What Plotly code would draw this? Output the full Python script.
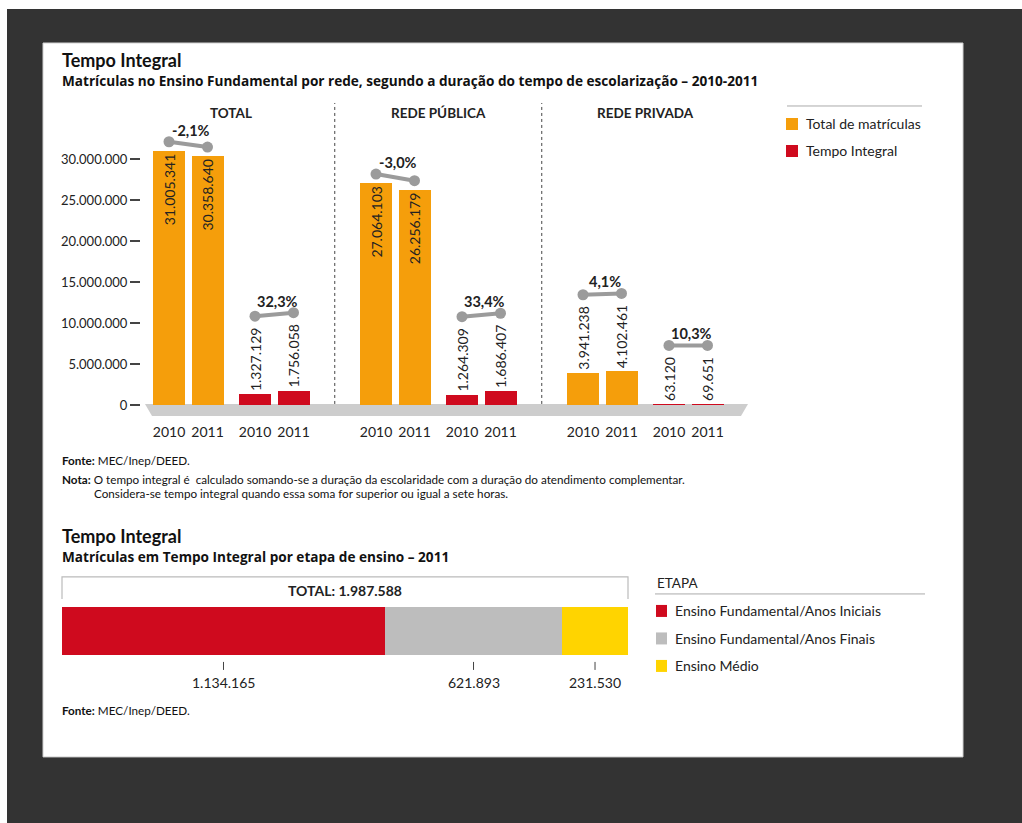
import plotly.graph_objects as go

# ---- data -------------------------------------------------------------
redes = ["TOTAL", "REDE PÚBLICA", "REDE PRIVADA"]
anos = ["2010", "2011"]
total_matriculas = [[31005341, 30358640], [27064103, 26256179], [3941238, 4102461]]
tempo_integral = [[1327129, 1756058], [1264309, 1686407], [63120, 69651]]
y_ticks = [0, 5000000, 10000000, 15000000, 20000000, 25000000, 30000000]

etapas = ["Ensino Fundamental/Anos Iniciais", "Ensino Fundamental/Anos Finais", "Ensino Médio"]
etapa_valores = [1134165, 621893, 231530]

legenda_series = ["Total de matrículas", "Tempo Integral"]

# ---- style ------------------------------------------------------------
W, H = 1022, 823
K = 831 / 823  # vertical layout scale
ORANGE = "#F59E0B"
RED = "#CF0A1E"
GREY_SEG = "#BDBDBD"
YELLOW = "#FFD400"
CONNECTOR = "#9B9B9B"
TEXT = "#222222"
FONT = "Lato"
FONT_SUB = "Open Sans"


def px(x):
    return x / W


def py(y):
    return 1 - y * K / H


def br(n):
    return f"{n:,}".replace(",", ".")


def pct(a, b):
    v = (b / a - 1) * 100
    return f"{v:.1f}".replace(".", ",") + "%"


# geometry of the upper chart (axis units follow screen pixels horizontally)
X_LEFT, X_RIGHT = 141, 760
Y_BOT, Y_TOP = 405, 97
Y_MAX = 37.56e6
PX_PER_UNIT = (Y_BOT - Y_TOP) / Y_MAX
FIRST_CENTER = 169
GROUP_STEP = 207
PAIR_STEP = 86
YEAR_STEP = 38.5
BAR_W = 32
INSIDE_MIN = 10e6
LABEL_SIZE = 14


def center(g, s, a):
    return FIRST_CENTER + g * GROUP_STEP + s * PAIR_STEP + a * YEAR_STEP


def label_len_px(n):
    s = br(n)
    digits = sum(c.isdigit() for c in s)
    dots = s.count(".")
    return LABEL_SIZE * (0.55 * digits + 0.25 * dots)


fig = go.Figure()
shapes = []
annotations = []

# background and white card
shapes.append(dict(type="rect", xref="paper", yref="paper", x0=px(7), x1=1, y0=py(840), y1=py(9),
                   fillcolor="#333333", line=dict(width=0), layer="below"))
shapes.append(dict(type="rect", xref="paper", yref="paper", x0=px(43), x1=px(963), y0=py(757), y1=py(43),
                   fillcolor="white", line=dict(color="#d0d0d0", width=1), layer="below"))

# floor under the bars
floor = (f"M {px(145)},{py(404)} L {px(748)},{py(404)} L {px(741)},{py(416)} "
         f"L {px(152)},{py(416)} Z")
shapes.append(dict(type="path", xref="paper", yref="paper", path=floor,
                   fillcolor="#CDCDCD", line=dict(width=0), layer="below"))

# bars of the upper chart
series = [total_matriculas, tempo_integral]
colors = [ORANGE, RED]
all_centers, all_years = [], []
conn_x, conn_y = [], []
for s, (vals, col) in enumerate(zip(series, colors)):
    xs, ys, txt, pos = [], [], [], []
    for g in range(len(redes)):
        pair_dots = []
        for a in range(len(anos)):
            v = vals[g][a]
            c = center(g, s, a)
            xs.append(c)
            ys.append(v)
            txt.append(br(v))
            inside = v > INSIDE_MIN
            pos.append("inside" if inside else "outside")
            all_centers.append(c)
            all_years.append(anos[a])
            off = 9 if inside else 3 + label_len_px(v) + 14
            pair_dots.append((c, v + off / PX_PER_UNIT))
        for (cx, cy) in pair_dots:
            conn_x.append(cx)
            conn_y.append(cy)
        conn_x.append(None)
        conn_y.append(None)
        annotations.append(dict(
            x=(pair_dots[0][0] + pair_dots[1][0]) / 2 + 3, y=max(pair_dots[0][1], pair_dots[1][1]),
            xref="x", yref="y", text=f"<b>{pct(vals[g][0], vals[g][1])}</b>",
            showarrow=False, yanchor="bottom", yshift=1,
            font=dict(family=FONT, size=14.5, color=TEXT)))
    fig.add_trace(go.Bar(
        x=xs, y=ys, width=BAR_W, marker=dict(color=col, line=dict(width=0)),
        text=txt, textposition=pos, textangle=-90, insidetextanchor="end",
        constraintext="none", cliponaxis=False,
        textfont=dict(family=FONT, size=LABEL_SIZE, color=TEXT),
        outsidetextfont=dict(family=FONT, size=LABEL_SIZE, color=TEXT),
        insidetextfont=dict(family=FONT, size=LABEL_SIZE, color=TEXT),
        hoverinfo="skip", showlegend=False, xaxis="x", yaxis="y"))

fig.add_trace(go.Scatter(
    x=conn_x, y=conn_y, mode="lines+markers", connectgaps=False,
    line=dict(color=CONNECTOR, width=4), marker=dict(color=CONNECTOR, size=11),
    hoverinfo="skip", showlegend=False, cliponaxis=False, xaxis="x", yaxis="y"))

# group headings and separators
for g, name in enumerate(redes):
    cx = sum(center(g, s, a) for s in range(2) for a in range(2)) / 4
    annotations.append(dict(x=cx, y=py(113), xref="x", yref="paper", text=f"<b>{name}</b>", showarrow=False,
                            font=dict(family=FONT, size=13.5, color=TEXT), yanchor="middle"))
for g in range(len(redes) - 1):
    sx = (center(g, 1, 1) + center(g + 1, 0, 0)) / 2
    shapes.append(dict(type="line", xref="x", yref="paper", x0=sx, x1=sx, y0=py(404), y1=py(103),
                       line=dict(color="#444444", width=1, dash="3px,3px")))

# titles and notes
text_items = [
    (61, 60, "<b>Tempo Integral</b>", FONT, 18),
    (61, 81, "<b>Matrículas no Ensino Fundamental por rede, segundo a duração do tempo de escolarização – 2010-2011</b>",
     FONT_SUB, 13.6),
    (61, 536, "<b>Tempo Integral</b>", FONT, 18),
    (61, 557, "<b>Matrículas em Tempo Integral por etapa de ensino – 2011</b>", FONT_SUB, 13.6),
    (61, 460, "<b>Fonte:</b> MEC/Inep/DEED.", FONT, 11.7),
    (61, 479, "<b>Nota:</b> O tempo integral é  calculado somando-se a duração da escolaridade com a duração do atendimento complementar.",
     FONT, 11.7),
    (93, 493, "Considera-se tempo integral quando essa soma for superior ou igual a sete horas.", FONT, 11.7),
    (61, 710, "<b>Fonte:</b> MEC/Inep/DEED.", FONT, 11.7),
]
for x, y, t, fam, size in text_items:
    annotations.append(dict(x=px(x), y=py(y), xref="paper", yref="paper", text=t, showarrow=False,
                            xanchor="left", yanchor="middle", borderpad=0,
                            font=dict(family=fam, size=size, color="#111")))

# upper legend
shapes.append(dict(type="line", xref="paper", yref="paper", x0=px(787), x1=px(922), y0=py(106), y1=py(106),
                   line=dict(color="#AAAAAA", width=1)))
for i, (lab, col) in enumerate(zip(legenda_series, colors)):
    yc = 124 + i * 27
    shapes.append(dict(type="rect", xref="paper", yref="paper", x0=px(786), x1=px(798),
                       y0=py(yc + 6), y1=py(yc - 6), fillcolor=col, line=dict(width=0)))
    annotations.append(dict(x=px(804), y=py(yc), xref="paper", yref="paper", text=lab, showarrow=False,
                            xanchor="left", yanchor="middle", font=dict(family=FONT, size=14, color=TEXT)))

# lower chart: single stacked bar
seg_colors = [RED, GREY_SEG, YELLOW]
total_etapas = sum(etapa_valores)
base = 0
for lab, v, col in zip(etapas, etapa_valores, seg_colors):
    fig.add_trace(go.Bar(
        x=[v], y=["2011"], base=[base], orientation="h", width=1,
        marker=dict(color=col, line=dict(width=0)), hoverinfo="skip", showlegend=False,
        xaxis="x2", yaxis="y2"))
    mid = base + v / 2
    shapes.append(dict(type="line", xref="x2", yref="paper", x0=mid, x1=mid, y0=py(670), y1=py(662),
                       line=dict(color="#444444", width=1)))
    annotations.append(dict(x=mid, y=py(683), xref="x2", yref="paper", text=br(v), showarrow=False,
                            yanchor="middle", font=dict(family=FONT, size=14, color=TEXT)))
    base += v

# frame carrying the total
box = f"M {px(62)},{py(599)} L {px(62)},{py(577)} L {px(628)},{py(577)} L {px(628)},{py(599)}"
shapes.append(dict(type="path", xref="paper", yref="paper", path=box, line=dict(color="#BBBBBB", width=1.2)))
annotations.append(dict(x=total_etapas / 2, y=py(591), xref="x2", yref="paper",
                        text=f"<b>TOTAL: {br(total_etapas)}</b>", showarrow=False, yanchor="middle",
                        font=dict(family=FONT, size=14, color=TEXT)))

# lower legend
annotations.append(dict(x=px(655), y=py(583), xref="paper", yref="paper", text="ETAPA", showarrow=False,
                        xanchor="left", yanchor="middle", font=dict(family=FONT, size=13.5, color=TEXT)))
shapes.append(dict(type="line", xref="paper", yref="paper", x0=px(655), x1=px(925), y0=py(594), y1=py(594),
                   line=dict(color="#AAAAAA", width=1)))
for i, (lab, col) in enumerate(zip(etapas, seg_colors)):
    yc = 611 + i * 27.5
    shapes.append(dict(type="rect", xref="paper", yref="paper", x0=px(656), x1=px(667),
                       y0=py(yc + 6), y1=py(yc - 6), fillcolor=col, line=dict(width=0)))
    annotations.append(dict(x=px(673), y=py(yc), xref="paper", yref="paper", text=lab, showarrow=False,
                            xanchor="left", yanchor="middle", font=dict(family=FONT, size=14, color=TEXT)))

fig.update_layout(
    width=W, height=H, margin=dict(l=0, r=0, t=0, b=0),
    paper_bgcolor="white", plot_bgcolor="rgba(0,0,0,0)",
    barmode="stack", font=dict(family=FONT, color=TEXT),
    shapes=shapes, annotations=annotations,
    xaxis=dict(domain=[px(X_LEFT), px(X_RIGHT)], range=[X_LEFT, X_RIGHT], showgrid=False, zeroline=False,
               showline=False, tickvals=all_centers, ticktext=all_years, ticks="",
               ticklabelstandoff=17, tickfont=dict(family=FONT, size=14, color=TEXT), fixedrange=True),
    yaxis=dict(domain=[py(Y_BOT), py(Y_TOP)], range=[0, Y_MAX], showgrid=False, zeroline=False,
               showline=False, tickvals=y_ticks, ticktext=[br(v) for v in y_ticks],
               ticks="outside", ticklen=10, tickwidth=1.5, tickcolor="#444444",
               tickfont=dict(family=FONT, size=13, color=TEXT), anchor="x", fixedrange=True),
    xaxis2=dict(domain=[px(62), px(628)], range=[0, total_etapas], visible=False, anchor="y2"),
    yaxis2=dict(domain=[py(655), py(607)], range=[-0.5, 0.5], visible=False, anchor="x2"),
)

fig.write_html("out.html")
